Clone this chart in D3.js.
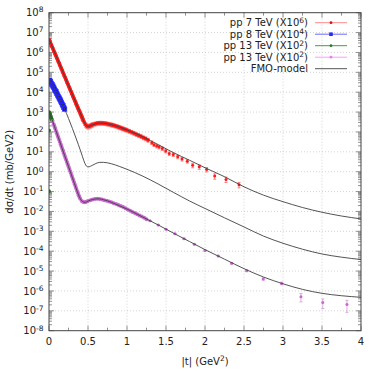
<!DOCTYPE html>
<html><head><meta charset="utf-8">
<script src="https://cdn.jsdelivr.net/npm/d3@7"></script>
<style>body{margin:0;background:#fff}svg{display:block;font-family:"DejaVu Sans",sans-serif}</style>
</head><body><svg id="c" width="380" height="380"></svg>
<script>
// ---------------- data ----------------
// pp 7 TeV (x10^6)
const tRed = [0.005,0.02,0.035,0.05,0.065,0.08,0.095,0.11,0.125,0.14,0.155,0.17,0.185,0.2,0.215,0.23,0.245,0.26,0.275,0.29,0.305,0.32,0.335,0.35,0.365,0.38,0.395,0.41,0.425,0.44,
 0.455,0.47,0.485,0.5,0.515,0.53,0.545,0.56,
 0.58,0.6,0.62,0.64,0.66,0.68,0.7,0.72,0.74,0.76,0.78,0.8,0.82,0.84,0.86,0.88,0.9,0.92,0.94,0.96,0.98,1.0,
 1.03,1.06,1.09,1.12,1.15,1.18,1.21,1.24,1.27,
 1.317,1.346,1.381,1.413,1.453,1.496,1.542,1.593,1.65,1.705,1.773,1.842,1.927,2.021,2.124,2.269,2.436,
 0.0125,0.0275,0.0425,0.0575,0.0725,0.0875,0.1025,0.1175,0.1325,0.1475,0.1625,0.1775,0.1925,0.2075,0.2225,0.2375,0.2525,0.2675,0.2825,0.2975,0.3125,0.3275,0.3425,0.3575,0.3725,0.3875,0.4025,0.4175,0.4325];
const vRed = [4.3e6,3.0e6,2.1e6,1.55e6,1.12e6,8.1e5,5.9e5,4.3e5,3.2e5,2.3e5,1.66e5,1.2e5,8.7e4,6.3e4,4.6e4,3.3e4,2.4e4,1.74e4,1.26e4,9.1e3,6.6e3,4.8e3,3.5e3,2.5e3,1.82e3,1.35e3,1.0e3,7.2e2,5.2e2,3.8e2,
 2.9e2,2.3e2,2.0e2,1.86e2,1.95e2,2.05e2,2.2e2,2.35e2,
 2.5e2,2.6e2,2.75e2,2.8e2,2.8e2,2.8e2,2.75e2,2.7e2,2.6e2,2.5e2,2.4e2,2.3e2,2.2e2,2.1e2,1.95e2,1.86e2,1.74e2,1.62e2,1.51e2,1.41e2,1.32e2,1.23e2,
 1.1e2,98,87,76,68,60,52,46,39,
 29,23,19.7,17.6,14.6,11.1,8.2,7.3,5.6,4.3,3.4,2.1,1.76,1.3,0.6,0.41,0.22,
 3.5e6,2.5e6,1.82e6,1.32e6,9.8e5,7.1e5,5.1e5,3.7e5,2.7e5,1.95e5,1.41e5,1.02e5,7.4e4,5.4e4,3.9e4,2.8e4,2.04e4,1.48e4,1.07e4,7.8e3,5.6e3,4.1e3,2.95e3,2.14e3,1.58e3,1.15e3,8.5e2,6.2e2,4.5e2];
const eRed = [0.05,0.05,0.05,0.05,0.05,0.05,0.05,0.05,0.05,0.05,0.05,0.05,0.06,0.06,0.06,0.07,0.07,0.08,0.08,0.09,0.1,0.12,0.14,0.16,0.18,0.2,0.22,0.24,0.25,0.25,
 0.25,0.25,0.25,0.25,0.25,0.25,0.25,0.25,
 0.22,0.22,0.22,0.22,0.22,0.22,0.22,0.22,0.22,0.22,0.22,0.22,0.22,0.22,0.22,0.22,0.22,0.22,0.22,0.22,0.22,0.22,
 0.22,0.22,0.22,0.22,0.22,0.22,0.22,0.22,0.22,
 0.2,0.2,0.2,0.2,0.2,0.2,0.2,0.2,0.2,0.2,0.2,0.25,0.25,0.25,0.3,0.3,0.3,
 0.05,0.05,0.05,0.05,0.05,0.05,0.05,0.05,0.05,0.05,0.05,0.05,0.06,0.06,0.06,0.07,0.07,0.08,0.08,0.09,0.1,0.12,0.14,0.16,0.18,0.2,0.22,0.24,0.25];

// pp 8 TeV (x10^4)
const tBlue = [0.01,0.02,0.03,0.04,0.05,0.06,0.07,0.08,0.09,0.1,0.11,0.12,0.13,0.14,0.15,0.16,0.17,0.18,0.19,0.2];
const vBlue = [3.98e4,3.39e4,2.82e4,2.4e4,2.04e4,1.74e4,1.45e4,1.23e4,1.05e4,8.7e3,7.24e3,6.17e3,5.13e3,4.37e3,3.63e3,3.02e3,2.51e3,2.09e3,1.7e3,1.41e3];

// pp 13 TeV (x10^2), low |t|
const tGreen = [0.001,0.001,0.002,0.005,0.008,0.011,0.014,0.017,0.02,0.024,0.028,0.032,0.036,0.04];
const vGreen = [1.2e2,1.05e-1,1.0e3,9.3e2,8.5e2,7.9e2,7.4e2,6.8e2,6.3e2,5.7e2,5.1e2,4.7e2,4.2e2,3.8e2];

// pp 13 TeV (x10^2)
const tMag = [0.045,0.06,0.08,0.1,0.12,0.14,0.16,0.18,0.2,0.22,0.24,0.26,0.28,0.3,0.32,0.34,0.36,0.38,0.4,
 0.42,0.44,0.46,0.48,0.5,
 0.53,0.56,0.59,0.62,0.65,0.68,0.71,0.74,0.77,0.8,0.83,0.86,0.89,0.92,0.95,0.98,1.01,1.04,1.07,1.1,1.13,1.16,1.19,1.22,1.25,
 1.295,1.401,1.5,1.615,1.731,1.863,2.0,2.17,2.342,2.535,2.747,2.983,3.23,3.51,3.82,
 0.07,0.09,0.11,0.13,0.15,0.17,0.19,0.21,0.23,0.25,0.27,0.29,0.31,0.33,0.35,0.37,0.39];
const vMag = [3.6e2,2.45e2,1.48e2,87,52,31,18.6,11.2,6.6,4.0,2.35,1.41,0.85,0.5,0.3,0.178,0.107,0.066,0.044,
 0.034,0.0295,0.0288,0.031,0.034,
 0.037,0.040,0.042,0.043,0.042,0.040,0.037,0.035,0.032,0.029,0.026,0.0234,0.0209,0.0186,0.0166,0.0145,0.0126,0.011,0.0095,0.0083,0.0072,0.0063,0.0055,0.0048,0.0041,
 3.4e-3,2.1e-3,1.26e-3,7.6e-4,4.2e-4,2.24e-4,1.07e-4,5.8e-5,2.45e-5,1.05e-5,4.0e-6,2.4e-6,5.1e-7,2.6e-7,2.1e-7,
 1.9e2,1.12e2,67,40.5,24,14.4,8.5,5.1,3.1,1.82,1.1,0.65,0.39,0.234,0.138,0.085,0.054];
const eMag = [0.04,0.04,0.04,0.04,0.04,0.04,0.04,0.04,0.04,0.04,0.04,0.04,0.04,0.04,0.04,0.04,0.04,0.04,0.04,
 0.05,0.05,0.05,0.05,0.05,
 0.05,0.05,0.05,0.05,0.05,0.05,0.05,0.05,0.05,0.05,0.05,0.05,0.05,0.05,0.05,0.05,0.05,0.05,0.05,0.05,0.05,0.05,0.05,0.05,0.05,
 0.06,0.06,0.06,0.06,0.07,0.07,0.08,0.08,0.1,0.1,0.12,0.15,0.45,0.5,0.6,
 0.04,0.04,0.04,0.04,0.04,0.04,0.04,0.04,0.04,0.04,0.04,0.04,0.04,0.04,0.04,0.04,0.04];

// FMO-model curves
const tModel = [0,0.05,0.1,0.15,0.2,0.25,0.3,0.35,0.4,0.43,0.46,0.48,0.5,0.53,0.56,0.6,0.65,0.7,0.8,0.9,1.0,1.2,1.4,1.6,1.8,2.0,2.25,2.5,2.75,3.0,3.25,3.5,3.75,4.0];
const vModel7 = [4.8e6,1.66e6,5.6e5,1.9e5,6.5e4,2.24e4,7.6e3,2.63e3,9.3e2,4.8e2,2.7e2,2.1e2,1.9e2,2.04e2,2.3e2,2.57e2,2.82e2,2.75e2,2.34e2,1.78e2,1.26e2,57.5,23,8.9,3.8,1.58,0.56,0.174,0.066,0.031,0.0158,0.0091,0.0059,0.0042];
const vModel8 = [4.68e4,2.04e4,8.7e3,3.63e3,1.41e3,4.79e2,1.51e2,44.7,12.6,5.62,2.63,1.91,1.74,1.86,2.14,2.57,2.95,2.95,2.51,1.86,1.32,0.603,0.24,0.0891,0.0339,0.0141,0.00479,0.00166,5.75e-4,2.51e-4,1.26e-4,7.24e-5,5.01e-5,3.8e-5];
const vModel13 = [1.12e3,316,87.1,24.0,6.61,1.82,0.501,0.138,0.0447,0.0316,0.0288,0.0302,0.0331,0.0372,0.0398,0.0427,0.0427,0.0389,0.0288,0.0195,0.0132,0.00525,0.00209,7.94e-4,3.09e-4,1.2e-4,3.98e-5,1.32e-5,5.01e-6,2.29e-6,1.2e-6,7.59e-7,5.75e-7,4.79e-7];

// axes
const xTicks = [0,0.5,1,1.5,2,2.5,3,3.5,4];
const xTickLabels = ["0","0.5","1","1.5","2","2.5","3","3.5","4"];
const yExps = [-8,-7,-6,-5,-4,-3,-2,-1,0,1,2,3,4,5,6,7,8];
const legendLabels = ["pp 7 TeV (X10","pp 8 TeV (X10","pp 13 TeV (X10","pp 13 TeV (X10","FMO-model"];
const legendSups = ["6","4","2","2",""];

// ---------------- drawing ----------------
const L=49,R=361,T=12.7,B=330.7;
const x=d3.scaleLinear().domain([0,4]).range([L,R]);
const y=d3.scaleLog().domain([1e-8,1e8]).range([B,T]);
const svg=d3.select('#c');
svg.append('rect').attr('width',380).attr('height',380).attr('fill','#fff');
svg.append('defs').append('clipPath').attr('id','clip').append('rect')
  .attr('x',L).attr('y',T).attr('width',R-L).attr('height',B-T);

// grid
const grid=svg.append('g').attr('stroke','#c8c8c8').attr('stroke-width',0.8).attr('stroke-dasharray','1,2');
xTicks.slice(1,-1).forEach(v=>grid.append('line').attr('x1',x(v)).attr('x2',x(v)).attr('y1',T).attr('y2',B));
yExps.slice(1,-1).forEach(e=>grid.append('line').attr('x1',L).attr('x2',R).attr('y1',y(Math.pow(10,e))).attr('y2',y(Math.pow(10,e))));

// ticks
const tk=svg.append('g').attr('stroke','#777').attr('stroke-width',0.8);
xTicks.forEach(v=>{
  tk.append('line').attr('x1',x(v)).attr('x2',x(v)).attr('y1',B).attr('y2',B-5);
  tk.append('line').attr('x1',x(v)).attr('x2',x(v)).attr('y1',T).attr('y2',T+5);
});
xTicks.slice(0,-1).forEach(v=>{
  const xm=x(v+0.25);
  tk.append('line').attr('x1',xm).attr('x2',xm).attr('y1',B).attr('y2',B-3);
  tk.append('line').attr('x1',xm).attr('x2',xm).attr('y1',T).attr('y2',T+3);
});
yExps.forEach(e=>{
  const yy=y(Math.pow(10,e));
  tk.append('line').attr('x1',L).attr('x2',L+5).attr('y1',yy).attr('y2',yy);
  tk.append('line').attr('x1',R).attr('x2',R-5).attr('y1',yy).attr('y2',yy);
  if(e<8){
    [2,3,4,5,6,7,8,9].forEach(k=>{
      const ym=y(k*Math.pow(10,e));
      tk.append('line').attr('x1',L).attr('x2',L+3).attr('y1',ym).attr('y2',ym);
      tk.append('line').attr('x1',R).attr('x2',R-3).attr('y1',ym).attr('y2',ym);
    });
  }
});

// tick labels
const lab=svg.append('g').attr('font-size',10).attr('fill','#222');
xTicks.forEach((v,i)=>lab.append('text').attr('x',x(v)).attr('y',344.5).attr('text-anchor','middle').text(xTickLabels[i]));
yExps.forEach(e=>{
  const t=lab.append('text').attr('x',43.5).attr('y',y(Math.pow(10,e))+3.6).attr('text-anchor','end');
  t.append('tspan').text('10');
  t.append('tspan').attr('font-size',7.5).attr('dy',-3.8).text(String(e));
});
// axis titles
const xt=lab.append('text').attr('x',205).attr('y',365).attr('text-anchor','middle');
xt.append('tspan').text('|t| (GeV');
xt.append('tspan').attr('font-size',7.5).attr('dy',-3.8).text('2');
xt.append('tspan').attr('dy',3.8).text(')');
lab.append('text').attr('transform','translate(12.5,171.7) rotate(-90)').attr('text-anchor','middle').text('dσ/dt (mb/GeV2)');

// data
const plot=svg.append('g').attr('clip-path','url(#clip)');
function errbars(ts,vs,es,color,w){
  const g=plot.append('g').attr('stroke',color).attr('stroke-width',w);
  ts.forEach((t,i)=>{
    const xx=x(t), y1=y(vs[i]*(1+es[i])), y2=y(vs[i]*(1-es[i]));
    g.append('line').attr('x1',xx).attr('x2',xx).attr('y1',y1).attr('y2',y2);
    g.append('line').attr('x1',xx-1.5).attr('x2',xx+1.5).attr('y1',y1).attr('y2',y1);
    g.append('line').attr('x1',xx-1.5).attr('x2',xx+1.5).attr('y1',y2).attr('y2',y2);
  });
}
// red
errbars(tRed,vRed,eRed,'#ff8080',1);
plot.append('g').selectAll('circle').data(tRed).join('circle')
  .attr('cx',d=>x(d)).attr('cy',(d,i)=>y(vRed[i])).attr('r',(d)=>d>1.3?1.5:1.9).attr('fill','#ff1a1a');
// blue
plot.append('g').selectAll('rect').data(tBlue).join('rect')
  .attr('x',d=>x(d)-2.2).attr('y',(d,i)=>y(vBlue[i])-2.2).attr('width',4.4).attr('height',4.4)
  .attr('fill','#1010f0').attr('stroke','#3030ff').attr('stroke-width',0.6);
// green
plot.append('g').selectAll('circle').data(tGreen).join('circle')
  .attr('cx',d=>x(d)).attr('cy',(d,i)=>y(vGreen[i])).attr('r',1.9).attr('fill','#1f7a1f');
// magenta
errbars(tMag,vMag,eMag,'#d9a0d9',0.9);
plot.append('g').selectAll('circle').data(tMag).join('circle')
  .attr('cx',d=>x(d)).attr('cy',(d,i)=>y(vMag[i])).attr('r',(d)=>d>1.28?1.5:2.0).attr('fill','#c868d0');

// model lines
const line=d3.line().x(d=>x(d[0])).y(d=>y(d[1])).curve(d3.curveMonotoneX);
[vModel7,vModel8,vModel13].forEach(vs=>{
  plot.append('path').datum(tModel.map((t,i)=>[t,vs[i]])).attr('d',line)
    .attr('fill','none').attr('stroke','#404040').attr('stroke-width',0.9);
});

// border
svg.append('rect').attr('x',L).attr('y',T).attr('width',R-L).attr('height',B-T)
  .attr('fill','none').attr('stroke','#444').attr('stroke-width',1);

// legend
const legColors=['#ff8c8c','#6a6aff','#4a9a4a','#ff9cff','#555'];
const legMark=['#e01010','#2a2aee','#2a7a2a','#f07af0',null];
const rowY=[22.7,34.2,45.7,57.2,68.7];
const lg=svg.append('g').attr('font-size',10).attr('fill','#222');
legendLabels.forEach((s,i)=>{
  const t=lg.append('text').attr('x',308).attr('y',rowY[i]+3.6).attr('text-anchor','end');
  t.append('tspan').text(s);
  if(legendSups[i]){
    t.append('tspan').attr('font-size',7.5).attr('dy',-3.8).text(legendSups[i]);
    t.append('tspan').attr('dy',3.8).text(')');
  }
  lg.append('line').attr('x1',315).attr('x2',347).attr('y1',rowY[i]).attr('y2',rowY[i])
    .attr('stroke',legColors[i]).attr('stroke-width',1);
  if(legMark[i]){
    if(i===1) lg.append('rect').attr('x',329.2).attr('y',rowY[i]-1.8).attr('width',3.6).attr('height',3.6).attr('fill',legMark[i]);
    else lg.append('circle').attr('cx',331).attr('cy',rowY[i]).attr('r',1.4).attr('fill',legMark[i]);
  }
});
</script>
</body></html>
